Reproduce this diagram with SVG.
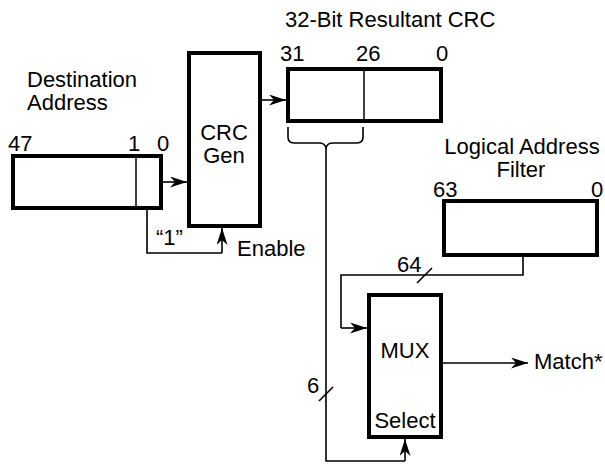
<svg xmlns="http://www.w3.org/2000/svg" width="605" height="466" viewBox="0 0 605 466">
<style>
.box{fill:#fff;stroke:#000;stroke-width:4}
.div{stroke:#000;stroke-width:1.5;fill:none}
.ln{stroke:#000;stroke-width:1.6;fill:none}
text{font-family:"Liberation Sans",Arial,sans-serif;font-size:22px;fill:#000}
.m{text-anchor:middle}
</style>
<defs>
<marker id="ah" viewBox="0 0 17 11" refX="17" refY="5.5" markerWidth="17" markerHeight="11" markerUnits="userSpaceOnUse" orient="auto">
<path d="M0,0 L17,5.5 L0,11 L5,5.5 Z" fill="#000"/>
</marker>
</defs>
<g id="connectors">
<line class="ln" x1="163" y1="182" x2="187" y2="182" marker-end="url(#ah)"/>
<line class="ln" x1="262" y1="100" x2="286" y2="100" marker-end="url(#ah)"/>
<polyline class="ln" points="147,210 147,253 222,253"/>
<line class="ln" x1="222" y1="253" x2="222" y2="228" marker-end="url(#ah)"/>
<path class="ln" d="M288,127 L288,137 Q288,143 294,143 L319,143 Q325,143 326,148 Q327,143 333,143 L357,143 Q363,143 363,137 L363,127"/>
<polyline class="ln" points="326,148 326,461 405,461"/>
<line class="ln" x1="405" y1="461" x2="405" y2="439" marker-end="url(#ah)"/>
<line class="ln" x1="319" y1="401" x2="333" y2="387"/>
<polyline class="ln" points="523,257 523,275 341,275 341,328"/>
<line class="ln" x1="341" y1="328" x2="367" y2="328" marker-end="url(#ah)"/>
<line class="ln" x1="417" y1="283" x2="432" y2="268"/>
<line class="ln" x1="443" y1="363" x2="528" y2="363" marker-end="url(#ah)"/>
</g>
<g id="dest">
<text x="27" y="87">Destination</text>
<text x="27" y="110">Address</text>
<text x="8" y="151">47</text>
<text x="128" y="151">1</text>
<text x="157" y="151">0</text>
<rect class="box" x="13" y="156" width="148" height="52"/>
<line class="div" x1="136" y1="156" x2="136" y2="208"/>
</g>
<g id="crcgen">
<rect class="box" x="189" y="53" width="71" height="173"/>
<text class="m" x="224" y="140">CRC</text>
<text class="m" x="224" y="163">Gen</text>
</g>
<g id="crcreg">
<text x="285" y="27">32-Bit Resultant CRC</text>
<text x="280" y="61">31</text>
<text x="356" y="61">26</text>
<text x="436" y="61">0</text>
<rect class="box" x="288" y="69" width="153" height="52"/>
<line class="div" x1="364" y1="69" x2="364" y2="121"/>
</g>
<g id="laf">
<text class="m" x="522" y="154">Logical Address</text>
<text class="m" x="521" y="177">Filter</text>
<text x="433" y="197">63</text>
<text x="591" y="197">0</text>
<rect class="box" x="444" y="201" width="153" height="54"/>
</g>
<g id="mux">
<rect class="box" x="369" y="295" width="72" height="142"/>
<text class="m" x="405" y="358">MUX</text>
<text class="m" x="405" y="428">Select</text>
</g>
<g id="labels">
<text x="156" y="245">“1”</text>
<text x="237" y="256">Enable</text>
<text x="397" y="272">64</text>
<text x="307" y="393">6</text>
<text x="534" y="369">Match*</text>
</g>
</svg>
